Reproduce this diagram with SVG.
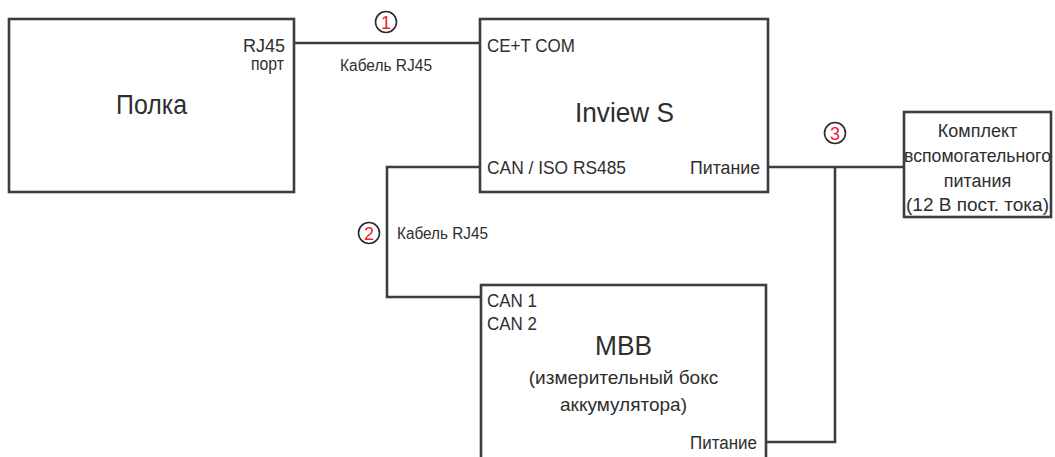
<svg xmlns="http://www.w3.org/2000/svg" width="1055" height="457" viewBox="0 0 1055 457">
<style>
.box{fill:#fff;stroke:#3a3d42;stroke-width:2.6}
.ln{fill:none;stroke:#3a3d42;stroke-width:2.6}
.t{font-family:"Liberation Sans",Arial,sans-serif;fill:#2e2e2e}
.lb{font-size:18px}
.sm{font-size:16px}
.big{font-size:27px}
.mid{font-size:19px}
.c{fill:#fff;stroke:#2b2b2b;stroke-width:1.6}
.n{font-family:"Liberation Sans",Arial,sans-serif;font-size:18px;fill:#e8262a;text-anchor:middle}
</style>
<rect width="1055" height="457" fill="#fff"/>
<g id="connectors">
<path class="ln" d="M294 43 H480"/>
<path class="ln" d="M480 167 H387 V297 H481"/>
<path class="ln" d="M768 167 H904"/>
<path class="ln" d="M835 167 V442 H766"/>
<text class="t sm" x="340" y="71" textLength="92" lengthAdjust="spacingAndGlyphs">Кабель RJ45</text>
<text class="t sm" x="397" y="239" textLength="91" lengthAdjust="spacingAndGlyphs">Кабель RJ45</text>
<circle class="c" cx="386" cy="22" r="10.5"/><text class="n" x="386" y="28.5">1</text>
<circle class="c" cx="369" cy="233" r="10.5"/><text class="n" x="369" y="239.5">2</text>
<circle class="c" cx="835" cy="133" r="10.5"/><text class="n" x="835" y="139.5">3</text>
</g>
<g id="polka">
<rect class="box" x="9" y="19" width="285" height="173"/>
<text class="t big" x="116" y="114" textLength="71" lengthAdjust="spacingAndGlyphs">Полка</text>
<text class="t lb" x="243" y="52" textLength="42" lengthAdjust="spacingAndGlyphs">RJ45</text>
<text class="t lb" x="251" y="70" textLength="33" lengthAdjust="spacingAndGlyphs">порт</text>
</g>
<g id="inview">
<rect class="box" x="480" y="19" width="288" height="173"/>
<text class="t big" x="575" y="122" textLength="99" lengthAdjust="spacingAndGlyphs">Inview S</text>
<text class="t lb" x="487" y="52" textLength="88" lengthAdjust="spacingAndGlyphs">CE+T COM</text>
<text class="t lb" x="487" y="174" textLength="139" lengthAdjust="spacingAndGlyphs">CAN / ISO RS485</text>
<text class="t lb" x="690" y="174" textLength="70" lengthAdjust="spacingAndGlyphs">Питание</text>
</g>
<g id="power">
<rect class="box" x="904" y="112" width="147" height="105"/>
<text class="t lb" x="977.5" y="137" text-anchor="middle">Комплект</text>
<text class="t lb" x="904" y="162" textLength="147" lengthAdjust="spacingAndGlyphs">вспомогательного</text>
<text class="t lb" x="977.5" y="187" text-anchor="middle">питания</text>
<text class="t lb" x="906" y="211" textLength="143" lengthAdjust="spacingAndGlyphs">(12 В пост. тока)</text>
</g>
<g id="mbb">
<rect class="box" x="481" y="285" width="285" height="190"/>
<text class="t lb" x="487" y="307" textLength="50" lengthAdjust="spacingAndGlyphs">CAN 1</text>
<text class="t lb" x="487" y="330" textLength="50" lengthAdjust="spacingAndGlyphs">CAN 2</text>
<text class="t big" x="595" y="355" textLength="57" lengthAdjust="spacingAndGlyphs">MBB</text>
<text class="t mid" x="623.5" y="384" text-anchor="middle">(измерительный бокс</text>
<text class="t mid" x="623.5" y="411" text-anchor="middle">аккумулятора)</text>
<text class="t lb" x="690" y="449" textLength="67" lengthAdjust="spacingAndGlyphs">Питание</text>
</g>
</svg>
